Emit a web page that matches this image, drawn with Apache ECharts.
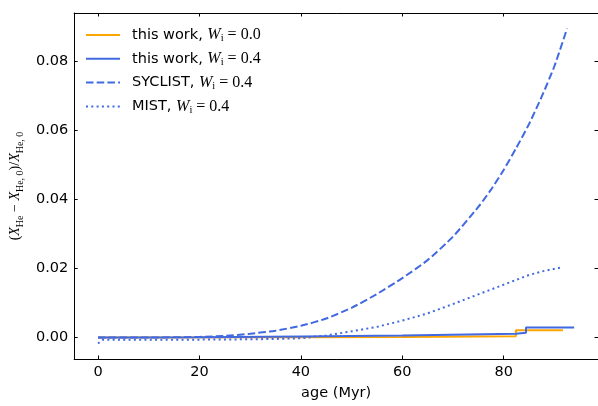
<!DOCTYPE html>
<html>
<head>
<meta charset="utf-8">
<script src="https://cdn.jsdelivr.net/npm/echarts@6/dist/echarts.min.js"></script>
<style>
html,body{margin:0;padding:0;background:#fff;}
#chart{width:598px;height:406px;}
</style>
</head>
<body>
<div id="chart"></div>
<script>
// ---- data ----
const seriesNames = ['this work, W0.0', 'this work, W0.4', 'SYCLIST, W0.4', 'MIST, W0.4'];
const xTicks = [0, 20, 40, 60, 80];
const yTicks = [0, 0.02, 0.04, 0.06, 0.08];

const ageW00 = [0, 40, 60, 82.4, 82.4, 91.7];
const valW00 = [0, 0.0001, 0.0002, 0.0004, 0.0021, 0.0021];

const ageW04 = [0, 20, 40, 60, 82.4, 82.4, 84.4, 84.4, 93.9];
const valW04 = [0, 0.0001, 0.0003, 0.0006, 0.0011, 0.0014, 0.0014, 0.0029, 0.0029];

const ageSyclist = [0, 10, 20, 25, 30, 35, 40, 45, 50, 55, 60, 65, 70, 75, 77.5, 80, 82.5, 85, 87.5, 90, 92.5];
const valSyclist = [0, 0, 0.0002, 0.0005, 0.0011, 0.002, 0.0034, 0.0055, 0.0086, 0.0126, 0.0172, 0.0224, 0.0292, 0.0378, 0.0428, 0.0485, 0.0549, 0.0618, 0.0697, 0.0785, 0.0894];

const ageMist = [0, 1, 10, 20, 30, 35, 40, 45, 50, 55, 60, 65, 70, 75, 80, 85, 88, 91.5];
const valMist = [-0.0017, -0.0006, -0.0006, -0.0006, -0.0005, -0.0004, -0.0002, 0.0006, 0.0018, 0.0031, 0.0049, 0.007, 0.0097, 0.0125, 0.0153, 0.0181, 0.0193, 0.0203];

const zip = (a, b) => a.map((v, i) => [v, b[i]]);

const ORANGE = '#ffa500';
const BLUE = '#4169e1';
const SERIF = '"Liberation Serif", "DejaVu Serif", serif';
const SANS = '"DejaVu Sans", sans-serif';

const chart = echarts.init(document.getElementById('chart'), null, {renderer: 'canvas'});

const legendRich = {
  t: {fontFamily: SANS, fontSize: 14.5, color: '#000', lineHeight: 18, padding: [0, 0, 0, 7]},
  w: {fontFamily: SERIF, fontStyle: 'italic', fontSize: 16, color: '#000', lineHeight: 18},
  s: {fontFamily: SERIF, fontSize: 10.5, color: '#000', lineHeight: 9, verticalAlign: 'bottom'},
  n: {fontFamily: SERIF, fontSize: 16, color: '#000', lineHeight: 18}
};

const yNameRich = {
  p: {fontFamily: SERIF, fontSize: 14, color: '#000', lineHeight: 20},
  x: {fontFamily: SERIF, fontStyle: 'italic', fontSize: 14, color: '#000', lineHeight: 20},
  s: {fontFamily: SERIF, fontSize: 10, color: '#000', lineHeight: 9, verticalAlign: 'bottom'}
};

const axisCommon = {
  axisLine: {show: true, onZero: false, lineStyle: {color: '#000', width: 1}},
  splitLine: {show: false}
};

const option = {
  animation: false,
  backgroundColor: '#fff',
  grid: {left: 73, top: 13, right: -3, bottom: 44, containLabel: false},
  legend: {
    left: 80, top: 22, orient: 'vertical',
    itemWidth: 34, itemHeight: 14, itemGap: 6.8,
    data: seriesNames,
    itemStyle: {opacity: 0, borderWidth: 0},
    textStyle: {rich: legendRich},
    formatter: function (name) {
      const parts = name.split(', W');
      return '{t|' + parts[0] + ', }{w|W}{s|i}{n| = ' + parts[1] + '}';
    }
  },
  xAxis: [
    Object.assign({}, axisCommon, {
      type: 'value', position: 'bottom', min: -4.7, max: 98.6,
      axisTick: {show: true, inside: true, length: 3.5, lineStyle: {color: '#000'}, customValues: xTicks},
      axisLabel: {show: true, margin: 6, color: '#000', fontFamily: SANS, fontSize: 14.5, customValues: xTicks,
        formatter: v => String(Math.round(v))},
      name: 'age (Myr)', nameLocation: 'middle', nameGap: 27,
      nameTextStyle: {color: '#000', fontFamily: SANS, fontSize: 14.5}
    }),
    Object.assign({}, axisCommon, {
      type: 'value', position: 'top', min: -4.7, max: 98.6,
      axisTick: {show: true, inside: true, length: 3.5, lineStyle: {color: '#000'}, customValues: xTicks},
      axisLabel: {show: false}
    })
  ],
  yAxis: [
    Object.assign({}, axisCommon, {
      type: 'value', position: 'left', min: -0.0062, max: 0.0939,
      axisTick: {show: true, inside: true, length: 3.5, lineStyle: {color: '#000'}, customValues: yTicks},
      axisLabel: {show: true, margin: 6, color: '#000', fontFamily: SANS, fontSize: 14.5, customValues: yTicks,
        formatter: v => v.toFixed(2)},
      name: '{p|(}{x|X}{s|He}{p| − }{x|X}{s|He, 0}{p|)/}{x|X}{s|He, 0}',
      nameLocation: 'middle', nameGap: 45, nameRotate: 90,
      nameTextStyle: {rich: yNameRich}
    }),
    Object.assign({}, axisCommon, {
      type: 'value', position: 'right', min: -0.0062, max: 0.0939,
      axisTick: {show: true, inside: true, length: 3.5, lineStyle: {color: '#000'}, customValues: yTicks},
      axisLabel: {show: false}
    })
  ],
  series: [
    {name: seriesNames[0], type: 'line', data: zip(ageW00, valW00), showSymbol: false, symbol: 'none',
      lineStyle: {color: ORANGE, width: 2}, itemStyle: {color: ORANGE}, z: 2},
    {name: seriesNames[1], type: 'line', data: zip(ageW04, valW04), showSymbol: false, symbol: 'none',
      lineStyle: {color: BLUE, width: 2}, itemStyle: {color: BLUE}, z: 3},
    {name: seriesNames[2], type: 'line', data: zip(ageSyclist, valSyclist), showSymbol: false, symbol: 'none', smooth: 0.2,
      lineStyle: {color: BLUE, width: 2, type: [7.5, 3.2]}, itemStyle: {color: BLUE}, z: 3},
    {name: seriesNames[3], type: 'line', data: zip(ageMist, valMist), showSymbol: false, symbol: 'none',
      lineStyle: {color: BLUE, width: 2, type: [2, 3.3]}, itemStyle: {color: BLUE}, z: 3}
  ]
};
chart.setOption(option);
</script>
</body>
</html>
